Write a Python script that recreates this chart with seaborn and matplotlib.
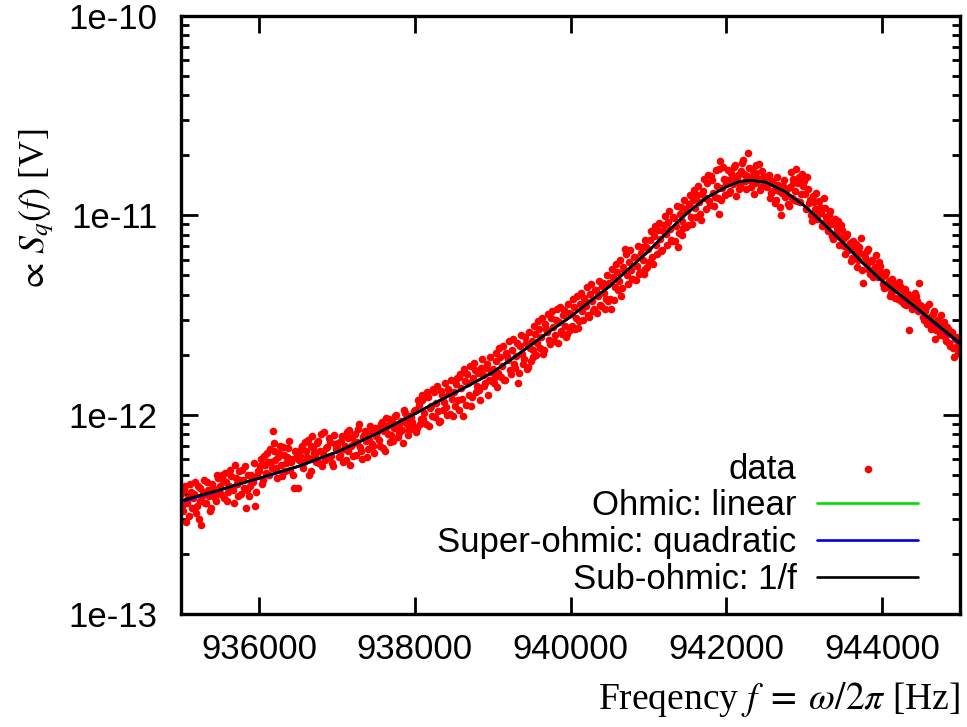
import numpy as np
import matplotlib
matplotlib.use("Agg")
import matplotlib.pyplot as plt
import seaborn as sns
from matplotlib.ticker import NullFormatter, LogLocator

# measured spectrum, values in units of 1e-12, one row per 500 Hz (25 Hz step)
data_blocks = [
    [0.40, 0.33, 0.44, 0.36, 0.31, 0.41, 0.38, 0.46, 0.35, 0.30, 0.43, 0.39, 0.47, 0.36, 0.42, 0.33, 0.45, 0.40, 0.37, 0.48],
    [0.44, 0.50, 0.38, 0.46, 0.41, 0.53, 0.43, 0.36, 0.48, 0.45, 0.52, 0.40, 0.47, 0.55, 0.42, 0.39, 0.50, 0.46, 0.35, 0.49],
    [0.52, 0.60, 0.47, 0.56, 0.64, 0.50, 0.58, 0.83, 0.66, 0.54, 0.61, 0.70, 0.49, 0.63, 0.57, 0.68, 0.53, 0.60, 0.43, 0.65],
    [0.43, 0.62, 0.70, 0.58, 0.66, 0.75, 0.60, 0.52, 0.68, 0.63, 0.72, 0.57, 0.80, 0.64, 0.59, 0.69, 0.76, 0.62, 0.55, 0.71],
    [0.68, 0.61, 0.74, 0.58, 0.70, 0.82, 0.66, 0.56, 0.77, 0.72, 0.63, 0.85, 0.69, 0.60, 0.79, 0.74, 0.67, 0.88, 0.71, 0.64],
    [0.78, 0.86, 0.70, 0.92, 0.83, 0.66, 0.88, 0.95, 0.79, 0.74, 0.98, 0.87, 0.81, 0.93, 0.72, 1.02, 0.90, 0.84, 0.97, 0.88],
    [1.05, 0.86, 1.12, 0.95, 1.18, 1.02, 0.90, 1.22, 1.08, 0.98, 1.30, 1.14, 1.04, 0.93, 1.26, 1.16, 1.09, 1.35, 1.01, 1.20],
    [1.30, 1.42, 1.18, 1.55, 1.36, 0.98, 1.48, 1.60, 1.25, 1.10, 1.52, 1.68, 1.40, 1.33, 1.72, 1.58, 1.45, 1.80, 1.50, 1.63],
    [1.70, 1.55, 1.85, 1.62, 1.95, 1.76, 1.50, 2.05, 1.88, 1.68, 2.12, 1.80, 1.96, 1.45, 2.20, 2.02, 1.90, 2.30, 1.74, 2.15],
    [2.35, 2.10, 2.55, 2.28, 2.70, 2.45, 2.02, 2.85, 2.60, 2.38, 3.05, 2.75, 2.50, 3.40, 2.90, 2.62, 3.15, 2.80, 2.55, 3.25],
    [3.20, 2.80, 3.45, 3.05, 2.72, 3.60, 3.30, 3.85, 3.50, 3.15, 4.05, 3.70, 3.40, 4.20, 3.95, 3.55, 4.40, 4.10, 3.80, 4.55],
    [4.60, 3.40, 4.90, 4.35, 5.20, 4.70, 3.95, 5.50, 6.80, 5.00, 5.80, 5.30, 4.80, 6.20, 5.60, 5.10, 6.50, 6.00, 5.40, 6.90],
    [6.80, 7.50, 6.20, 7.90, 7.10, 8.40, 7.60, 6.70, 8.90, 8.10, 9.30, 8.50, 7.40, 9.70, 8.80, 6.90, 10.2, 9.40, 8.60, 10.8],
    [10.5, 11.4, 9.80, 12.0, 10.9, 12.7, 11.6, 9.50, 13.3, 12.2, 14.5, 11.8, 15.8, 13.0, 12.4, 14.1, 10.2, 18.8, 13.7, 15.2],
    [14.6, 16.8, 13.2, 15.4, 17.5, 12.5, 15.9, 14.2, 18.3, 16.1, 13.6, 20.5, 15.0, 17.0, 12.8, 16.4, 14.8, 18.0, 13.9, 15.6],
    [15.2, 13.8, 16.0, 12.9, 14.5, 11.5, 15.6, 13.2, 10.0, 14.0, 12.4, 13.5, 11.2, 16.5, 15.3, 12.0, 17.0, 14.6, 11.6, 16.2],
    [14.8, 10.8, 13.5, 12.0, 9.40, 11.6, 13.0, 10.2, 11.0, 8.80, 12.2, 9.80, 8.30, 10.5, 9.00, 7.60, 9.60, 8.50, 7.10, 8.90],
    [7.60, 6.40, 8.10, 7.00, 5.90, 7.40, 6.60, 5.50, 6.90, 7.70, 4.60, 6.20, 5.70, 6.80, 5.10, 6.00, 5.40, 6.30, 4.90, 5.60],
    [4.90, 4.30, 5.20, 4.60, 3.95, 4.80, 4.20, 4.50, 3.80, 4.40, 4.00, 3.60, 4.25, 3.75, 2.65, 3.90, 3.45, 4.10, 3.70, 4.60],
    [3.50, 3.10, 3.30, 2.85, 3.60, 2.70, 3.20, 2.40, 3.00, 2.75, 3.15, 2.55, 2.90, 2.35, 2.70, 2.20, 2.60, 1.95, 2.45, 2.05, 2.30],
]
# in-between samples (offset 12.5 Hz)
data_blocks_mid = [
    [0.35, 0.42, 0.29, 0.38, 0.45, 0.34, 0.40, 0.32, 0.44, 0.37, 0.28, 0.41, 0.36, 0.46, 0.39, 0.34, 0.43, 0.38, 0.50, 0.41],
    [0.40, 0.47, 0.51, 0.37, 0.44, 0.49, 0.42, 0.56, 0.45, 0.39, 0.47, 0.53, 0.43, 0.34, 0.50, 0.44, 0.48, 0.57, 0.41, 0.52],
    [0.55, 0.45, 0.62, 0.51, 0.58, 0.67, 0.54, 0.72, 0.59, 0.48, 0.64, 0.56, 0.69, 0.52, 0.61, 0.74, 0.58, 0.50, 0.66, 0.62],
    [0.59, 0.67, 0.54, 0.73, 0.61, 0.50, 0.70, 0.78, 0.64, 0.58, 0.74, 0.66, 0.55, 0.82, 0.68, 0.61, 0.73, 0.57, 0.79, 0.67],
    [0.72, 0.63, 0.78, 0.67, 0.59, 0.76, 0.84, 0.70, 0.62, 0.80, 0.73, 0.90, 0.66, 0.77, 0.83, 0.61, 0.75, 0.81, 0.70, 0.86],
    [0.82, 0.75, 0.90, 0.68, 0.85, 0.96, 0.80, 0.73, 0.93, 0.86, 1.00, 0.77, 0.91, 0.84, 1.05, 0.95, 0.79, 0.99, 0.92, 1.04],
    [0.82, 1.18, 0.90, 1.25, 0.95, 1.22, 1.30, 0.88, 1.10, 1.35, 0.97, 1.40, 0.92, 1.32, 1.05, 1.45, 1.00, 1.28, 1.50, 0.98],
    [1.10, 1.52, 1.05, 1.60, 1.20, 1.70, 1.12, 1.45, 1.75, 1.22, 1.82, 1.30, 1.62, 1.18, 1.90, 1.40, 1.72, 1.25, 1.95, 1.48],
    [1.45, 2.05, 1.38, 2.15, 1.55, 2.22, 1.50, 1.98, 2.35, 1.60, 2.40, 1.72, 2.28, 1.62, 2.50, 1.80, 2.45, 1.70, 2.60, 1.85],
    [1.95, 2.80, 2.00, 2.95, 2.15, 3.05, 2.10, 2.70, 3.20, 2.25, 3.30, 2.35, 3.00, 2.30, 3.45, 2.55, 3.35, 2.45, 3.60, 2.65],
    [2.75, 3.80, 2.70, 3.95, 2.95, 4.10, 3.00, 3.70, 4.35, 3.10, 4.50, 3.30, 4.20, 3.25, 4.70, 3.50, 4.60, 3.40, 5.00, 3.70],
    [3.80, 5.40, 3.75, 5.70, 4.20, 5.95, 4.30, 5.30, 6.40, 4.55, 6.70, 4.80, 6.20, 4.75, 7.00, 5.20, 6.90, 5.10, 7.50, 5.50],
    [5.80, 8.30, 5.70, 8.80, 6.40, 9.20, 6.60, 8.30, 9.90, 7.10, 10.5, 7.50, 9.80, 7.40, 11.2, 8.20, 11.0, 8.00, 12.0, 8.70],
    [8.90, 12.6, 9.00, 13.4, 9.80, 14.0, 10.2, 12.8, 15.2, 10.8, 16.0, 11.3, 15.0, 11.2, 16.8, 12.2, 17.0, 12.0, 17.5, 12.6],
    [15.1, 13.0, 16.3, 14.4, 17.8, 15.3, 13.5, 16.6, 19.0, 14.9, 15.8, 17.3, 13.8, 16.0, 14.5, 17.8, 15.2, 13.4, 16.7, 14.3],
    [14.0, 15.8, 12.2, 14.9, 13.4, 12.0, 14.2, 11.0, 13.0, 15.1, 12.6, 11.4, 13.9, 12.2, 14.6, 13.3, 11.8, 15.5, 12.8, 14.0],
    [12.8, 15.5, 11.5, 10.0, 12.5, 10.8, 9.60, 11.8, 10.3, 9.20, 10.9, 8.70, 10.0, 9.30, 7.90, 9.00, 8.10, 9.40, 7.80, 8.40],
    [7.00, 7.90, 6.70, 7.30, 6.10, 6.90, 7.20, 6.00, 6.50, 5.30, 6.40, 5.80, 6.60, 5.30, 5.90, 4.90, 5.50, 5.10, 5.80, 5.20],
    [4.55, 5.00, 4.35, 4.70, 4.10, 4.45, 3.85, 4.30, 4.65, 3.70, 4.15, 3.90, 3.55, 4.05, 3.85, 3.40, 3.65, 3.95, 3.30, 3.55],
    [3.35, 3.00, 3.45, 2.95, 3.10, 2.80, 3.30, 2.65, 2.95, 2.50, 2.85, 2.60, 2.45, 2.75, 2.30, 2.55, 2.15, 2.40, 2.20, 2.25],
]
data_vals = [v for block in data_blocks for v in block]
data_freq = np.linspace(935000, 945000, len(data_vals))
data_vals_mid = [v for block in data_blocks_mid for v in block]
data_freq_mid = np.linspace(935012.5, 944987.5, len(data_vals_mid))

# fitted curves (units of 1e-12)
fit_freq = [935000, 935250, 935500, 935750, 936000, 936250, 936500, 936750, 937000, 937250,
            937500, 937750, 938000, 938250, 938500, 938750, 939000, 939250, 939500, 939750,
            940000, 940250, 940500, 940750, 941000, 941250, 941500, 941750, 942000, 942150,
            942300, 942500, 942750, 943000, 943250, 943500, 943750, 944000, 944250, 944500,
            944750, 945000]
fit_ohmic = [0.368, 0.393, 0.42, 0.45, 0.48, 0.513, 0.55, 0.598, 0.65, 0.72,
             0.80, 0.90, 1.01, 1.14, 1.28, 1.44, 1.63, 1.91, 2.25, 2.65,
             3.10, 3.70, 4.40, 5.40, 6.60, 8.30, 10.3, 12.3, 13.9, 14.7,
             15.0, 14.7, 13.2, 11.2, 9.10, 7.30, 5.80, 4.70, 3.95, 3.30,
             2.75, 2.28]
fit_superohmic = [0.365, 0.391, 0.418, 0.448, 0.478, 0.511, 0.548, 0.596, 0.648, 0.718,
                  0.798, 0.898, 1.008, 1.138, 1.278, 1.438, 1.628, 1.905, 2.245, 2.645,
                  3.095, 3.695, 4.395, 5.395, 6.595, 8.295, 10.28, 12.28, 13.88, 14.68,
                  14.98, 14.68, 13.18, 11.17, 9.06, 7.26, 5.76, 4.67, 3.92, 3.27,
                  2.72, 2.26]
fit_subohmic = [0.37, 0.395, 0.42, 0.45, 0.48, 0.515, 0.55, 0.60, 0.65, 0.72,
                0.80, 0.90, 1.01, 1.14, 1.28, 1.44, 1.63, 1.91, 2.25, 2.65,
                3.10, 3.70, 4.40, 5.40, 6.60, 8.30, 10.3, 12.3, 13.9, 14.7,
                15.0, 14.7, 13.2, 11.2, 9.10, 7.30, 5.80, 4.70, 3.95, 3.30,
                2.75, 2.29]

x_ticks = [936000, 938000, 940000, 942000, 944000]
x_tick_labels = ["936000", "938000", "940000", "942000", "944000"]
y_ticks = [1e-13, 1e-12, 1e-11, 1e-10]
y_tick_labels = ["1e-13", "1e-12", "1e-11", "1e-10"]

pico = 1e-12

sns.set_style("ticks")
plt.rcParams["font.family"] = ["Liberation Sans", "DejaVu Sans"]
plt.rcParams["mathtext.fontset"] = "stix"
for key in ["text.color", "axes.labelcolor", "xtick.color", "ytick.color", "axes.edgecolor"]:
    plt.rcParams[key] = "black"

fig, ax = plt.subplots(figsize=(9.67, 7.27), dpi=100)
fig.subplots_adjust(left=181 / 967, right=960 / 967, top=1 - 16 / 727, bottom=1 - 614 / 727)

sns.scatterplot(x=data_freq, y=np.array(data_vals) * pico, color="#ff0000", s=30,
                linewidth=0, label="data", ax=ax)
sns.scatterplot(x=data_freq_mid, y=np.array(data_vals_mid) * pico, color="#ff0000", s=30,
                linewidth=0, ax=ax)
sns.lineplot(x=fit_freq, y=np.array(fit_ohmic) * pico, color="#00e000", linewidth=1.9,
             label="Ohmic: linear", ax=ax)
sns.lineplot(x=fit_freq, y=np.array(fit_superohmic) * pico, color="#0000e0", linewidth=1.9,
             label="Super-ohmic: quadratic", ax=ax)
sns.lineplot(x=fit_freq, y=np.array(fit_subohmic) * pico, color="black", linewidth=1.9,
             label="Sub-ohmic: 1/f", ax=ax)

ax.set_yscale("log")
ax.set_xlim(935000, 945000)
ax.set_ylim(1e-13, 1e-10)
ax.set_xticks(x_ticks, labels=x_tick_labels)
ax.set_yticks(y_ticks, labels=y_tick_labels)
ax.yaxis.set_minor_locator(LogLocator(base=10, subs=np.arange(2, 10)))
ax.yaxis.set_minor_formatter(NullFormatter())

for s in ax.spines.values():
    s.set_linewidth(2.4)
ax.tick_params(which="both", direction="in", top=True, right=True, width=2,
               labelsize=25, colors="black")
ax.tick_params(which="major", length=12)
ax.tick_params(which="minor", length=6)
ax.tick_params(axis="y", pad=17)
ax.tick_params(axis="x", pad=14)

ax.set_xlabel(r"Freqency $f\;=\;\omega/2\pi$ [Hz]", family="Liberation Serif", fontsize=27,
              ha="right")
ax.xaxis.set_label_coords(1.0, -0.11)
ax.set_ylabel(r"$\propto\,S_q(f)$ [V]", family="Liberation Serif", fontsize=26)
ax.yaxis.set_label_coords(-0.16, 0.675)

leg = ax.legend(loc="lower right", bbox_to_anchor=(0.946, 0.03), frameon=False,
                markerfirst=False, handlelength=2.9, handletextpad=0.6, labelspacing=0.11,
                borderpad=0, borderaxespad=0, fontsize=25, scatterpoints=1)

fig.savefig("out.png", dpi=100)
